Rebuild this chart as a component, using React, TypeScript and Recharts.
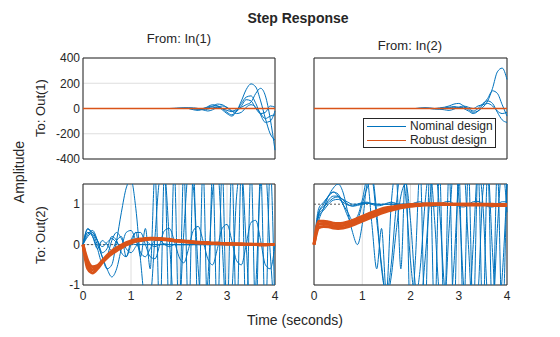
import React from "react";
import { CartesianGrid, LineChart, Line, ReferenceArea, ReferenceLine, XAxis, YAxis } from "recharts";

const BLUE = "#0072BD";
const ORANGE = "#D95319";
const INK = "#262626";

const TIME = [
  0, 0.1, 0.2, 0.3, 0.4, 0.5, 0.6, 0.7, 0.8, 0.9,
  1, 1.1, 1.2, 1.3, 1.4, 1.5, 1.6, 1.7, 1.8, 1.9,
  2, 2.1, 2.2, 2.3, 2.4, 2.5, 2.6, 2.7, 2.8, 2.9,
  3, 3.1, 3.2, 3.3, 3.4, 3.5, 3.6, 3.7, 3.8, 3.9,
  4,
];
const TIME_TICKS = [0, 1, 2, 3, 4];
const TOP_TICKS = [-400, -200, 0, 200, 400];
const BOTTOM_TICKS = [-1, 0, 1];

// Out(1) <- In(1)
const TL_N1 = [0, 0, 0, 0, 0, 0, 0, 0, 0, 0, 0, 0, 0, 0, 0, 0, 0, 0, 0, 2, 5, 5, 0, -10, -15, -5, 15, 30, 20, -10, -40, -60, -20, 60, 150, 195, 170, 60, -80, -200, -250];
const TL_N2 = [0, 0, 0, 0, 0, 0, 0, 0, 0, 0, 0, 0, 0, 0, 0, 0, 0, 0, 0, 0, 0, 5, 5, 0, -5, 0, 10, 20, 20, 0, -30, -50, -20, 40, 90, 100, 40, -50, -110, -100, -20];
const TL_N3 = [0, 0, 0, 0, 0, 0, 0, 0, 0, 0, 0, 0, 0, 0, 0, 0, 0, 0, 0, 0, 0, 0, 0, -5, -5, 0, 5, 15, 35, 30, 5, -20, -20, 20, 70, 60, 0, -40, -30, 20, 10];
const TL_N4 = [0, 0, 0, 0, 0, 0, 0, 0, 0, 0, 0, 0, 0, 0, 0, 0, 0, 0, 0, 0, 0, 0, 0, 0, -5, -10, -5, 5, 10, 0, -15, -25, -5, 10, 30, 50, 120, 160, 100, -80, -330];
const TL_N5 = [0, 0, 0, 0, 0, 0, 0, 0, 0, 0, 0, 0, 0, 0, 0, 0, 0, 0, 0, 0, 0, 0, 5, 5, 0, -10, -20, -10, 10, 20, 10, -20, -40, -30, 10, 30, 10, -40, -80, -60, -50];
const TL_R1 = [0, 0, 0, 0, 0, 0, 0, 0, 0, 0, 0, 0, 0, 0, 0, 0, 0, 0, 0, 0, 0, 0, 0, 0, 0, 0, 0, 0, 0, 0, 0, 0, 0, 0, 0, 0, 0, 0, 0, 0, 0];

// Out(1) <- In(2)
const TR_N1 = [0, 0, 0, 0, 0, 0, 0, 0, 0, 0, 0, 0, 0, 0, 0, 0, 0, 0, 0, 0, 0, 0, 0, 5, 5, 0, 5, 10, 20, 35, 40, 20, -10, -30, -20, 10, 60, 160, 290, 320, 230];
const TR_N2 = [0, 0, 0, 0, 0, 0, 0, 0, 0, 0, 0, 0, 0, 0, 0, 0, 0, 0, 0, 0, 0, 0, 0, 0, 0, 0, 0, 5, 10, 15, 10, 0, -20, -40, -20, 30, 80, 140, 120, 30, -60];
const TR_N3 = [0, 0, 0, 0, 0, 0, 0, 0, 0, 0, 0, 0, 0, 0, 0, 0, 0, 0, 0, 0, 0, 0, 5, 5, 0, -5, -5, 0, 5, 10, 5, 10, 0, -20, 0, 40, 60, 40, -30, -90, -110];
const TR_N4 = [0, 0, 0, 0, 0, 0, 0, 0, 0, 0, 0, 0, 0, 0, 0, 0, 0, 0, 0, 0, 0, 0, 0, 0, 0, 0, -5, -10, -15, -5, 10, 20, 10, 0, 20, 30, 40, 20, -20, -40, -30];
const TR_R1 = [0, 0, 0, 0, 0, 0, 0, 0, 0, 0, 0, 0, 0, 0, 0, 0, 0, 0, 0, 0, 0, 0, 0, 0, 0, 0, 0, 0, 0, 0, 0, 0, 0, 0, 0, 0, 0, 0, 0, 0, 0];

// Out(2) <- In(1)
const BL_N1 = [0, 0.38, 0.3, 0.1, -0.05, 0.05, 0.15, 0.05, -0.05, 0, 0.02, 0, 0, 0, 0, 0, 0, 0, 0, 0, 0, 0, 0, 0, 0, 0, 0, 0, 0, 0, 0, 0, 0, 0, 0, 0, 0, 0, 0, 0, 0];
const BL_N2 = [0, 0.3, 0.2, -0.1, -0.45, -0.3, 0.1, 0.3, 0.15, -0.1, -0.2, -0.05, 0.1, 0.1, 0, -0.05, 0, 0.02, 0, 0, 0, 0, 0, 0, 0, 0, 0, 0, 0, 0, 0, 0, 0, 0, 0, 0, 0, 0, 0, 0, 0];
const BL_N3 = [0, 0.2, 0.3, 0.1, -0.2, -0.1, 0.2, 0.1, -0.2, -0.3, 0, 0.3, 0.3, 0, -0.3, -0.35, 0, 0.35, 0.4, 0.1, -0.3, -0.45, -0.1, 0.35, 0.45, 0.1, -0.35, -0.5, -0.1, 0.4, 0.5, 0.1, -0.4, -0.5, 0, 0.55, 0.6, 0.1, -0.5, -0.6, 0];
const BL_N4 = [0, 0.25, 0.35, 0.1, -0.3, -0.6, -0.5, 0.1, 0.8, 1.4, 1.6, 0.9, -0.4, -1.4, -1.3, 0.2, 1.6, 1.7, 0.1, -1.5, -1.6, 0.3, 1.8, 1.4, -0.6, -1.9, -0.9, 1.3, 1.9, 0, -1.9, -1.2, 1.2, 1.9, 0, -1.9, -1.0, 1.5, 1.8, -0.2, -1.9];
const BL_N5 = [0, 0.4, 0.2, -0.1, 0.1, 0, -0.15, 0.1, 0.2, -0.3, 0.1, 0.3, -0.3, 0.4, -0.6, 1.8, -1.9, 1.9, -1.9, 1.9, -1.9, 1.9, -1.9, 1.9, -1.9, 1.9, -1.9, 1.9, -1.9, 1.9, -1.9, 1.9, -1.9, 1.9, -1.9, 1.9, -1.9, 1.9, -1.9, 1.9, -1.9];
const BL_N6 = [0, 0.3, 0.25, 0, -0.3, -0.6, -0.8, -0.6, -0.1, 0.3, 0.35, 0.1, -0.2, -0.3, -0.1, 0.1, 0.1, 0, -0.05, 0, 0, 0, 0, 0, 0, 0, 0, 0, 0, 0, 0, 0, 0, 0, 0, 0, 0, 0, 0, 0, 0];
const BL_R1 = [0, -0.5, -0.62, -0.55, -0.42, -0.3, -0.2, -0.12, -0.05, 0.02, 0.07, 0.1, 0.12, 0.14, 0.15, 0.15, 0.14, 0.13, 0.12, 0.1, 0.09, 0.08, 0.07, 0.06, 0.05, 0.04, 0.04, 0.03, 0.03, 0.02, 0.02, 0.02, 0.01, 0.01, 0.01, 0.01, 0, 0, 0, 0, 0];
const BL_R2 = [0, -0.4, -0.55, -0.52, -0.4, -0.27, -0.16, -0.08, -0.01, 0.05, 0.09, 0.12, 0.14, 0.15, 0.16, 0.16, 0.15, 0.14, 0.13, 0.11, 0.1, 0.09, 0.08, 0.07, 0.06, 0.05, 0.05, 0.04, 0.04, 0.03, 0.03, 0.02, 0.02, 0.02, 0.01, 0.01, 0.01, 0.01, 0, 0, 0];
const BL_R3 = [0, -0.6, -0.7, -0.6, -0.45, -0.33, -0.23, -0.15, -0.08, -0.01, 0.04, 0.08, 0.1, 0.12, 0.13, 0.13, 0.13, 0.12, 0.11, 0.09, 0.08, 0.07, 0.06, 0.05, 0.04, 0.04, 0.03, 0.03, 0.02, 0.02, 0.01, 0.01, 0.01, 0, 0, 0, 0, -0.01, -0.01, 0, 0];

// Out(2) <- In(2)
const BR_N1 = [0, 0.8, 0.95, 1.05, 1.15, 1.18, 1.12, 1.05, 1.0, 1.0, 1.02, 1.03, 1.02, 1.0, 1.0, 1.0, 1.0, 1.0, 1.0, 1.0, 1.0, 1.0, 1.0, 1.0, 1.0, 1.0, 1.0, 1.0, 1.0, 1.0, 1.0, 1.0, 1.0, 1.0, 1.0, 1.0, 1.0, 1.0, 1.0, 1.0, 1.0];
const BR_N2 = [0, 0.7, 0.85, 1.0, 1.1, 1.12, 1.05, 0.98, 0.96, 1.0, 1.04, 1.05, 1.0, 0.96, 0.97, 1.02, 1.05, 1.02, 0.97, 0.95, 0.99, 1.04, 1.06, 1.01, 0.96, 0.94, 0.99, 1.05, 1.07, 1.01, 0.95, 0.93, 0.99, 1.06, 1.07, 1.01, 0.94, 0.93, 1.0, 1.06, 1.06];
const BR_N3 = [0, 0.6, 0.9, 1.2, 1.4, 1.5, 1.3, 0.8, 0.3, 0.0, 0.5, 1.5, 1.7, 0.8, -0.6, -1.2, -0.5, 0.9, 1.8, 1.2, -0.4, -1.3, -0.6, 1.0, 1.9, 0.6, -1.2, -1.5, 0.4, 1.9, 1.2, -1.0, -1.8, 0, 1.9, 1.0, -1.3, -1.7, 0.4, 1.9, 0.8];
const BR_N4 = [0, 0.8, 1.0, 1.2, 1.3, 1.2, 1.0, 0.8, 0.6, 0.7, 1.1, 1.6, 0.5, -0.6, 0.4, -1.2, 1.0, 1.8, -0.6, 1.9, -1.9, -0.4, 1.9, -1.9, 1.9, -1.9, 1.9, -1.9, 1.9, -1.9, 1.9, -1.9, 1.9, -1.9, 1.9, -1.9, 1.9, -1.9, 1.9, -1.9, 1.9];
const BR_N5 = [0, 0.9, 1.05, 1.2, 1.3, 1.25, 1.0, 0.7, 0.5, 0.6, 1.0, 1.4, 1.6, 0.6, -0.5, -1.3, -0.8, 0.3, 1.2, 1.5, 0.6, -1.0, -1.5, -0.4, 1.1, 1.9, 0.9, -1.0, -1.8, -0.5, 1.5, 1.9, 0, -1.9, -1.2, 1.3, 1.9, -0.2, -1.9, -0.8, 1.5];
const BR_N6 = [0, 0.75, 0.9, 1.1, 1.2, 1.2, 1.1, 1.0, 0.95, 0.97, 1.0, 1.02, 1.01, 1.0, 0.99, 1.0, 1.0, 1.0, 1.0, 1.0, 1.0, 1.0, 1.0, 1.0, 1.0, 1.0, 1.0, 1.0, 1.0, 1.0, 1.0, 1.0, 1.0, 1.0, 1.0, 1.0, 1.0, 1.0, 1.0, 1.0, 1.0];
const BR_R1 = [0, 0.5, 0.52, 0.5, 0.47, 0.46, 0.47, 0.5, 0.54, 0.59, 0.64, 0.69, 0.74, 0.79, 0.83, 0.86, 0.89, 0.92, 0.94, 0.96, 0.97, 0.98, 0.99, 0.99, 1.0, 1.0, 1.0, 1.0, 1.0, 1.0, 1.0, 1.0, 1.0, 1.0, 1.0, 0.99, 0.99, 0.99, 0.99, 0.98, 0.98];
const BR_R2 = [0, 0.58, 0.58, 0.56, 0.53, 0.52, 0.53, 0.56, 0.6, 0.65, 0.7, 0.75, 0.8, 0.84, 0.88, 0.91, 0.93, 0.95, 0.97, 0.98, 0.99, 1.0, 1.0, 1.01, 1.01, 1.01, 1.01, 1.01, 1.0, 1.0, 1.0, 1.0, 1.0, 1.0, 1.0, 1.0, 1.0, 1.0, 0.99, 0.99, 0.99];
const BR_R3 = [0, 0.42, 0.45, 0.44, 0.41, 0.4, 0.41, 0.44, 0.48, 0.53, 0.58, 0.63, 0.68, 0.73, 0.78, 0.82, 0.85, 0.88, 0.91, 0.93, 0.95, 0.96, 0.97, 0.98, 0.98, 0.99, 0.99, 0.99, 0.99, 0.99, 0.99, 0.98, 0.98, 0.98, 0.98, 0.98, 0.98, 0.97, 0.97, 0.97, 0.97];

function table(series: Record<string, number[]>) {
  return TIME.map((t, i) => {
    const row: Record<string, number> = { t };
    for (const k of Object.keys(series)) row[k] = series[k][i];
    return row;
  });
}

const tickStyle = { fill: INK, fontSize: 12 };

type PanelProps = {
  blue: Record<string, number[]>;
  orange: Record<string, number[]>;
  orangeWidth: number;
  domain: [number, number];
  ticks: number[];
  refY: number;
  showY: boolean;
  showX: boolean;
  left: number;
  top: number;
  width: number;
};

function Panel({ blue, orange, orangeWidth, domain, ticks, refY, showY, showX, left, top, width }: PanelProps) {
  const yw = showY ? 40 : 0;
  const padL = showY ? 0 : 10;
  const padR = 10;
  const padT = 8;
  const padB = showX ? 1 : 8;
  const xh = showX ? 24 : 0;
  const h = 101;
  const data = table({ ...blue, ...orange });
  return (
    <div style={{ position: "absolute", left: left - yw - padL, top: top - padT }}>
      <LineChart
        width={padL + yw + width + padR}
        height={padT + h + xh + padB}
        data={data}
        margin={{ top: padT, right: padR, bottom: padB, left: padL }}
      >
        <CartesianGrid stroke="#dedede" />
        <XAxis
          type="number"
          dataKey="t"
          domain={[0, 4]}
          ticks={TIME_TICKS}
          interval={0}
          height={xh}
          tick={showX ? tickStyle : false}
          axisLine={false}
          tickLine={false}
          tickSize={0}
          tickMargin={6}
        />
        <YAxis
          type="number"
          domain={domain}
          ticks={ticks}
          interval={0}
          allowDataOverflow
          width={yw}
          tick={showY ? tickStyle : false}
          axisLine={false}
          tickLine={false}
          tickSize={0}
          tickMargin={3}
        />
        <ReferenceLine y={refY} stroke="#555" strokeDasharray="2 2" />
        {Object.keys(blue).map((k) => (
          <Line key={k} dataKey={k} type="monotone" stroke={BLUE} strokeWidth={1} dot={false} isAnimationActive={false} />
        ))}
        {Object.keys(orange).map((k) => (
          <Line key={k} dataKey={k} type="monotone" stroke={ORANGE} strokeWidth={orangeWidth} dot={false} isAnimationActive={false} />
        ))}
        <ReferenceArea x1={0} x2={4} y1={domain[0]} y2={domain[1]} fill="none" stroke={INK} strokeWidth={1} />
      </LineChart>
    </div>
  );
}

const label = (extra: React.CSSProperties): React.CSSProperties => ({
  position: "absolute",
  color: INK,
  whiteSpace: "nowrap",
  transform: "translate(-50%, -50%)",
  ...extra,
});

export default function App() {
  return (
    <div
      style={{
        position: "absolute",
        left: 0,
        top: 0,
        width: 560,
        height: 337,
        background: "#fff",
        fontFamily: "'Liberation Sans', Arial, sans-serif",
      }}
    >
      <div style={label({ left: 298, top: 18, fontSize: 14, fontWeight: "bold" })}>Step Response</div>
      <div style={label({ left: 179, top: 38, fontSize: 13 })}>From: In(1)</div>
      <div style={label({ left: 410, top: 45, fontSize: 13 })}>From: In(2)</div>
      <div style={label({ left: 19, top: 172, fontSize: 14, transform: "translate(-50%, -50%) rotate(-90deg)" })}>Amplitude</div>
      <div style={label({ left: 40, top: 108, fontSize: 13, transform: "translate(-50%, -50%) rotate(-90deg)" })}>To: Out(1)</div>
      <div style={label({ left: 40, top: 235, fontSize: 13, transform: "translate(-50%, -50%) rotate(-90deg)" })}>To: Out(2)</div>
      <div style={label({ left: 295, top: 320, fontSize: 14 })}>Time (seconds)</div>

      <Panel
        blue={{ n1: TL_N1, n2: TL_N2, n3: TL_N3, n4: TL_N4, n5: TL_N5 }}
        orange={{ r1: TL_R1 }}
        orangeWidth={1.5}
        domain={[-400, 400]}
        ticks={TOP_TICKS}
        refY={0}
        showY
        showX={false}
        left={83}
        top={58}
        width={192}
      />
      <Panel
        blue={{ n1: TR_N1, n2: TR_N2, n3: TR_N3, n4: TR_N4 }}
        orange={{ r1: TR_R1 }}
        orangeWidth={1.5}
        domain={[-400, 400]}
        ticks={TOP_TICKS}
        refY={0}
        showY={false}
        showX={false}
        left={314}
        top={58}
        width={193}
      />
      <Panel
        blue={{ n1: BL_N1, n2: BL_N2, n3: BL_N3, n4: BL_N4, n5: BL_N5, n6: BL_N6 }}
        orange={{ r1: BL_R1, r2: BL_R2, r3: BL_R3 }}
        orangeWidth={3}
        domain={[-1, 1.5]}
        ticks={BOTTOM_TICKS}
        refY={0}
        showY
        showX
        left={83}
        top={184}
        width={192}
      />
      <Panel
        blue={{ n1: BR_N1, n2: BR_N2, n3: BR_N3, n4: BR_N4, n5: BR_N5, n6: BR_N6 }}
        orange={{ r1: BR_R1, r2: BR_R2, r3: BR_R3 }}
        orangeWidth={3}
        domain={[-1, 1.5]}
        ticks={BOTTOM_TICKS}
        refY={1}
        showY={false}
        showX
        left={314}
        top={184}
        width={193}
      />

      <div
        style={{
          position: "absolute",
          left: 363,
          top: 118,
          width: 131,
          height: 28,
          border: `1px solid ${INK}`,
          background: "#fff",
          fontSize: 12,
          color: INK,
        }}
      >
        {[
          { name: "Nominal design", color: BLUE },
          { name: "Robust design", color: ORANGE },
        ].map((item) => (
          <div key={item.name} style={{ display: "flex", alignItems: "center", height: 14 }}>
            <div style={{ width: 39, height: 0, borderTop: `1.5px solid ${item.color}`, marginLeft: 3, marginRight: 4 }} />
            <span>{item.name}</span>
          </div>
        ))}
      </div>
    </div>
  );
}
